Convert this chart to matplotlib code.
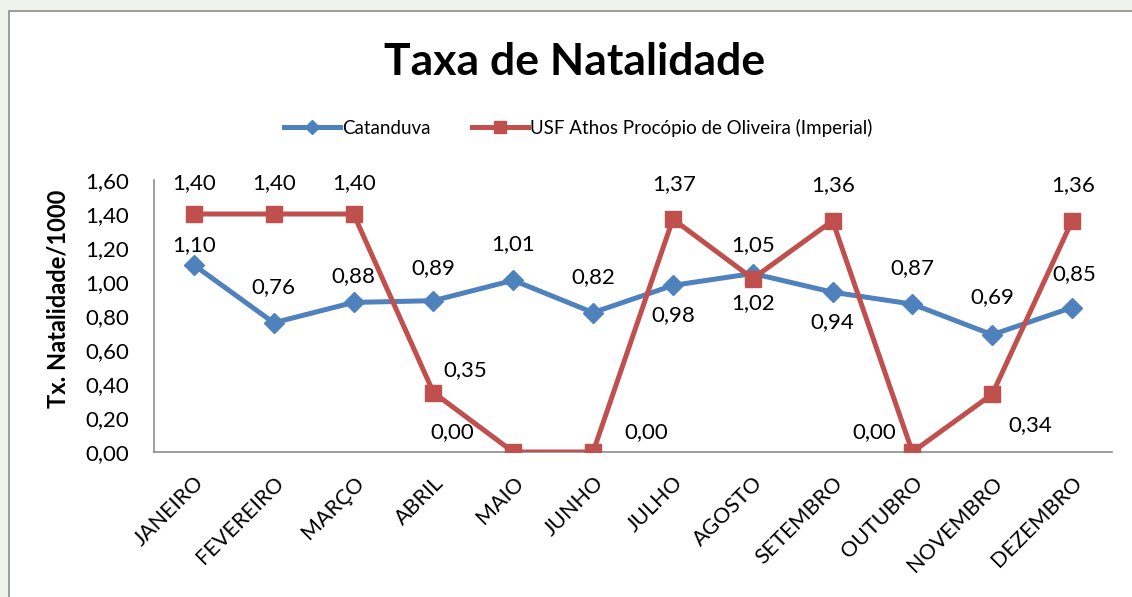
import matplotlib.pyplot as plt
from matplotlib.patches import Rectangle

meses = ['JANEIRO', 'FEVEREIRO', 'MARÇO', 'ABRIL', 'MAIO', 'JUNHO', 'JULHO',
         'AGOSTO', 'SETEMBRO', 'OUTUBRO', 'NOVEMBRO', 'DEZEMBRO']
catanduva = [1.10, 0.76, 0.88, 0.89, 1.01, 0.82, 0.98, 1.05, 0.94, 0.87, 0.69, 0.85]
usf_imperial = [1.40, 1.40, 1.40, 0.35, 0.00, 0.00, 1.37, 1.02, 1.36, 0.00, 0.34, 1.36]

# label offsets in pixels (as placed in the original sheet)
off_cat = [(0, 20), (0, 36), (0, 26), (0, 33), (0, 36), (0, 36), (0, -30),
           (0, 28), (0, -30), (0, 36), (0, 38), (2, 33)]
off_usf = [(0, 31), (0, 31), (0, 31), (32, 22), (-61, 20), (53, 20), (1, 35),
           (0, -24), (1, 36), (-38, 20), (38, -31), (1, 36)]

blue = '#4F81BD'
red = '#C0504D'
plt.rcParams['font.family'] = ['Lato', 'DejaVu Sans']

fig = plt.figure(figsize=(11.32, 5.97), dpi=100)
fig.patch.set_facecolor('#EFF3EC')
W, H = 1132, 597
fig.patches.append(Rectangle((9 / W, -0.1), 1.2, 1 - 11 / H + 0.1, transform=fig.transFigure,
                             facecolor='white', edgecolor='#8C8C8C', linewidth=1.2, zorder=-5))

ax = fig.add_axes([154 / W, 1 - 452 / H, 958 / W, 272 / H])
ax.set_zorder(2)
ax.set_facecolor('none')
x = range(len(meses))
ax.plot(x, catanduva, color=blue, lw=3.6, marker='D', ms=10, label='Catanduva', zorder=3)
ax.plot(x, usf_imperial, color=red, lw=3.6, marker='s', ms=12,
        label='USF Athos Procópio de Oliveira (Imperial)', zorder=4)

for i, v in enumerate(catanduva):
    ax.annotate(f'{v:.2f}'.replace('.', ','), (i, v), xytext=off_cat[i],
                textcoords='offset pixels', ha='center', va='center', fontsize=16)
for i, v in enumerate(usf_imperial):
    ax.annotate(f'{v:.2f}'.replace('.', ','), (i, v), xytext=off_usf[i],
                textcoords='offset pixels', ha='center', va='center', fontsize=16)

ax.set_xlim(-0.5, 11.5)
ax.set_ylim(0, 1.6)
yt = [i * 0.2 for i in range(9)]
ax.set_yticks(yt)
ax.set_yticklabels([f'{t:.2f}'.replace('.', ',') for t in yt], fontsize=16)
ax.set_xticks(list(x))
ax.set_xticklabels(meses, rotation=45, ha='right', rotation_mode='anchor', fontsize=15.5)
ax.tick_params(axis='y', length=0, pad=18)
ax.tick_params(axis='x', length=0, pad=15)
for s in ['top', 'right']:
    ax.spines[s].set_visible(False)
for s in ['left', 'bottom']:
    ax.spines[s].set_color('#8C8C8C')
    ax.spines[s].set_linewidth(1.2)
ax.set_ylabel('Tx. Natalidade/1000', fontsize=17, fontweight='bold')
ax.yaxis.set_label_coords(70 / W, 0.5, transform=fig.transFigure)

fig.text(575 / W, 1 - 62 / H, 'Taxa de Natalidade', ha='center', va='center',
         fontsize=32, fontweight='bold')
fig.legend(loc='center', bbox_to_anchor=(578 / W, 1 - 128 / H), ncol=2, frameon=False,
           fontsize=13.5, handlelength=3.0, columnspacing=2.2, handletextpad=0.1,
           markerscale=0.7)

fig.savefig('out.png', dpi=100, facecolor=fig.get_facecolor())
